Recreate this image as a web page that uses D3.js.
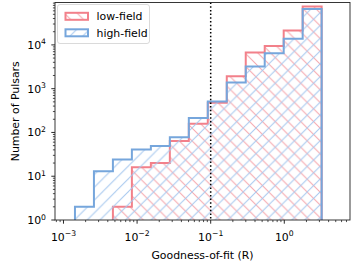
<!DOCTYPE html>
<html>
<head>
<meta charset="utf-8">
<script src="https://cdn.jsdelivr.net/npm/d3@7"></script>
<style>
  body { margin: 0; background: #fff; }
  svg { display: block; font-family: "DejaVu Sans", sans-serif; }
</style>
</head>
<body>
<svg id="chart" width="354" height="266"></svg>
<script>
//
// Data
//

// log-spaced bin edges of goodness-of-fit R
var binEdges = [0.001432, 0.002593, 0.004694, 0.008499, 0.01539, 0.02786, 0.05044,
  0.09133, 0.1654, 0.2994, 0.5420, 0.9813, 1.777, 3.217]
// counts per bin
var lowField = [0, 0, 2, 16, 20, 64, 158, 480, 1930, 6670, 9480, 21200, 75000]
var highField = [2, 13, 24, 41, 49, 78, 215, 506, 1375, 3190, 6460, 13900, 66500]
var seriesNames = ['low-field', 'high-field']
var xTicks = [1e-3, 1e-2, 1e-1, 1e0]
var xTickExp = ['\u22123', '\u22122', '\u22121', '0']
var yTicks = [1e0, 1e1, 1e2, 1e3, 1e4]
var yTickExp = ['0', '1', '2', '3', '4']
var cutoff = 0.1

//
// Configuration
//

var width = 354, height = 266
var margin = { left: 55, right: 4, top: 2.5, bottom: 46 }
var colorLow = '#f2808a'
var colorHigh = '#76a6dc'
var hatchLow = '#f5a6ad'
var hatchHigh = '#a6c8ee'
var fontSize = 10.9

var svg = d3.select('#chart')
var x = d3.scaleLog().domain([7.67e-4, 7.81]).range([margin.left, width - margin.right])
var y = d3.scaleLog().domain([1, 93000]).range([height - margin.bottom, margin.top])
var x0 = x.range()[0], x1 = x.range()[1]
var y0 = y.range()[0], y1 = y.range()[1]

svg.append('rect').attr('width', width).attr('height', height).attr('fill', '#fff')

//
// Hatch patterns
//

var defs = svg.append('defs')
function hatch(id, color, forward) {
  var s = 12.8
  var p = defs.append('pattern').attr('id', id)
    .attr('patternUnits', 'userSpaceOnUse')
    .attr('width', s).attr('height', s)
  var segs = forward
    ? [[0, s, s, 0], [-s, s, s, -s], [0, 2 * s, 2 * s, 0]]
    : [[0, 0, s, s], [-s, 0, s, 2 * s], [0, -s, 2 * s, s]]
  segs.forEach(function(d) {
    p.append('line').attr('x1', d[0]).attr('y1', d[1]).attr('x2', d[2]).attr('y2', d[3])
      .attr('stroke', color).attr('stroke-width', 1)
  })
}
hatch('hatchLow', hatchLow, false)
hatch('hatchHigh', hatchHigh, true)

defs.append('clipPath').attr('id', 'plotClip')
  .append('rect').attr('x', x0).attr('y', y1).attr('width', x1 - x0).attr('height', y0 - y1)

//
// Histograms
//

var line = d3.line()

function stepPoints(counts) {
  var start = counts.findIndex(function(v) { return v > 0 })
  var pts = [[x(binEdges[start]), y0]]
  for (var i = start; i < counts.length; i++) {
    pts.push([x(binEdges[i]), y(counts[i])])
    pts.push([x(binEdges[i + 1]), y(counts[i])])
  }
  pts.push([x(binEdges[counts.length]), y0])
  return pts
}

var plot = svg.append('g').attr('clip-path', 'url(#plotClip)')

function drawHist(counts, pattern, color) {
  var pts = stepPoints(counts)
  plot.append('path').attr('d', line(pts) + 'Z').attr('fill', 'url(#' + pattern + ')')
  plot.append('path').attr('d', line(pts)).attr('fill', 'none')
    .attr('stroke', color).attr('stroke-width', 2).attr('stroke-linejoin', 'miter')
}
drawHist(lowField, 'hatchLow', colorLow)
drawHist(highField, 'hatchHigh', colorHigh)

// cut line
plot.append('line')
  .attr('x1', x(cutoff)).attr('x2', x(cutoff)).attr('y1', y1).attr('y2', y0)
  .attr('stroke', '#000').attr('stroke-width', 1.5).attr('stroke-dasharray', '1.5,2.2')

//
// Axes
//

var ax = svg.append('g')

function minorTicks(scale) {
  var d = scale.domain(), out = []
  for (var e = Math.floor(Math.log10(d[0])); e <= Math.ceil(Math.log10(d[1])); e++) {
    for (var m = 2; m <= 9; m++) {
      var v = m * Math.pow(10, e)
      if (v >= d[0] && v <= d[1]) out.push(v)
    }
  }
  return out
}

// x ticks
ax.selectAll('.xminor').data(minorTicks(x)).enter().append('line')
  .attr('x1', function(d) { return x(d) }).attr('x2', function(d) { return x(d) })
  .attr('y1', y0).attr('y2', y0 + 2.1).attr('stroke', '#000').attr('stroke-width', 0.7)
ax.selectAll('.xmajor').data(xTicks).enter().append('line')
  .attr('x1', function(d) { return x(d) }).attr('x2', function(d) { return x(d) })
  .attr('y1', y0).attr('y2', y0 + 3.7).attr('stroke', '#000').attr('stroke-width', 0.85)

var xl = ax.selectAll('.xlab').data(xTicks).enter().append('text')
  .attr('x', function(d) { return x(d) }).attr('y', 240.7)
  .attr('text-anchor', 'middle').attr('font-size', fontSize).attr('fill', '#000')
xl.append('tspan').text('10')
xl.append('tspan').attr('dy', -4.4).attr('font-size', 7.7).text(function(d, i) { return xTickExp[i] })

// y ticks
ax.selectAll('.yminor').data(minorTicks(y)).enter().append('line')
  .attr('y1', function(d) { return y(d) }).attr('y2', function(d) { return y(d) })
  .attr('x1', x0).attr('x2', x0 - 2.1).attr('stroke', '#000').attr('stroke-width', 0.7)
ax.selectAll('.ymajor').data(yTicks).enter().append('line')
  .attr('y1', function(d) { return y(d) }).attr('y2', function(d) { return y(d) })
  .attr('x1', x0).attr('x2', x0 - 3.7).attr('stroke', '#000').attr('stroke-width', 0.85)

var yl = ax.selectAll('.ylab').data(yTicks).enter().append('text')
  .attr('x', 46).attr('y', function(d) { return y(d) + 4 })
  .attr('text-anchor', 'end').attr('font-size', fontSize).attr('fill', '#000')
yl.append('tspan').text('10')
yl.append('tspan').attr('dy', -4.4).attr('font-size', 7.7).text(function(d, i) { return yTickExp[i] })

// frame
ax.append('rect').attr('x', x0).attr('y', y1).attr('width', x1 - x0).attr('height', y0 - y1)
  .attr('fill', 'none').attr('stroke', '#222').attr('stroke-width', 0.9)

// axis titles
ax.append('text').attr('x', (x0 + x1) / 2).attr('y', 258.5)
  .attr('text-anchor', 'middle').attr('font-size', fontSize).text('Goodness-of-fit (R)')
ax.append('text').attr('transform', 'translate(18.9,' + (y0 + y1) / 2 + ') rotate(-90)')
  .attr('text-anchor', 'middle').attr('font-size', fontSize).text('Number of Pulsars')

//
// Legend
//

var lg = svg.append('g')
lg.append('rect').attr('x', 57.5).attr('y', 4.5).attr('width', 92).attr('height', 39)
  .attr('rx', 2.5).attr('fill', '#fff').attr('fill-opacity', 0.8)
  .attr('stroke', '#d0d0d0').attr('stroke-width', 0.8)

var legendItems = lg.selectAll('.item').data(seriesNames).enter().append('g')
  .attr('transform', function(d, i) { return 'translate(0,' + (i * 16.5) + ')' })
legendItems.append('rect').attr('x', 65.5).attr('y', 12.8).attr('width', 22.5).attr('height', 7)
  .attr('fill', function(d, i) { return i ? 'url(#hatchHigh)' : 'url(#hatchLow)' })
  .attr('stroke', function(d, i) { return i ? colorHigh : colorLow })
  .attr('stroke-width', 2)
legendItems.append('text').attr('x', 96.5).attr('y', 20)
  .attr('font-size', fontSize).attr('fill', '#000').text(function(d) { return d })
</script>
</body>
</html>
